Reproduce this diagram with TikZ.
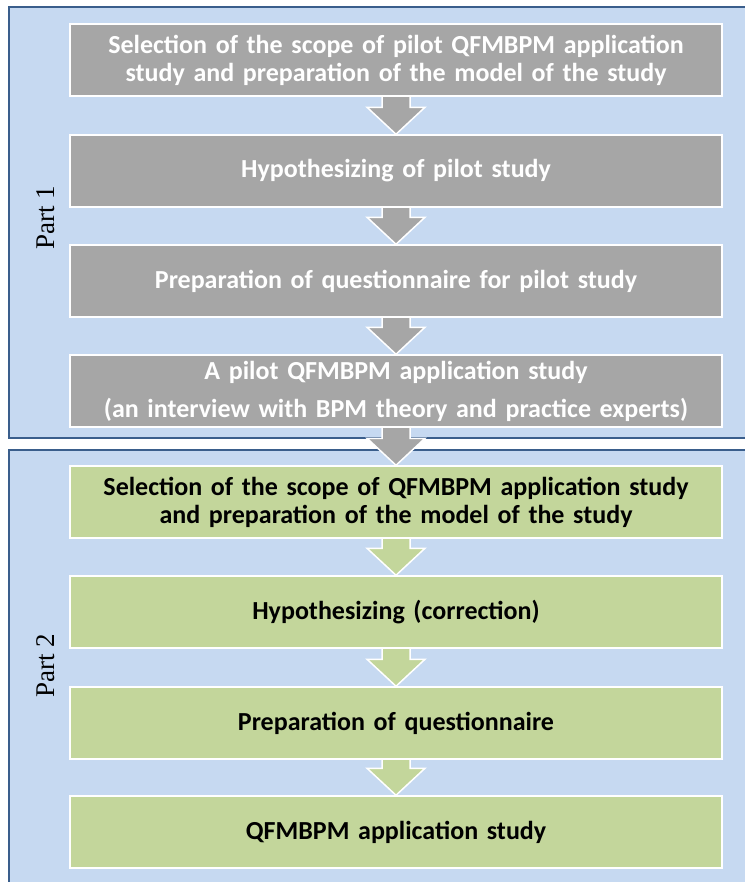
\documentclass[tikz,border=0pt]{standalone}
\usepackage{fontspec}
\setmainfont{Carlito}
\newfontfamily\partfont{Liberation Serif}
\usetikzlibrary{calc}
\pgfdeclarelayer{panels}
\pgfdeclarelayer{arrows}
\pgfsetlayers{panels,arrows,main}

\definecolor{panelfill}{HTML}{C6D9F1}
\definecolor{panelline}{HTML}{3A5E8C}
\definecolor{greybox}{HTML}{A6A6A6}
\definecolor{greenbox}{HTML}{C3D69B}

\tikzset{
  stepbox/.style={draw=white, line width=1.5bp, minimum width=652bp, minimum height=72bp,
    text width=640bp, align=center, inner sep=0pt, font=\fontsize{26bp}{28bp}\selectfont\bfseries},
  greystep/.style={stepbox, fill=greybox, text=white},
  greenstep/.style={stepbox, fill=greenbox, text=black},
  panel/.style={fill=panelfill, draw=panelline, line width=1.6bp},
  greyarrow/.style={fill=greybox, draw=white, line width=1.5bp, line join=miter},
  greenarrow/.style={fill=greenbox, draw=white, line width=1.5bp, line join=miter},
  partlabel/.style={rotate=90, font=\partfont\fontsize{27bp}{27bp}\selectfont, inner sep=0pt},
}

% block arrow from the bottom of one step to the top of the next
\newcommand\flowarrow[3]{%
  \path[#3] let \p1=(#1.south), \p2=(#2.north) in
    (\x1-14bp,\y1) -- (\x1-14bp,\y2+27bp) -- (\x1-29bp,\y2+27bp) -- (\x2,\y2)
    -- (\x1+29bp,\y2+27bp) -- (\x1+14bp,\y2+27bp) -- (\x1+14bp,\y1);}

\begin{document}
\begin{tikzpicture}[x=1bp,y=-1bp]
\useasboundingbox (0,0) rectangle (745,882);

% steps of part 1
\node[greystep] (b1) at (396,60) {Selection of the scope of pilot QFMBPM application\\study and preparation of the model of the study};
\node[greystep] (b2) at (396,171) {Hypothesizing of pilot study};
\node[greystep] (b3) at (396,281) {Preparation of questionnaire for pilot study};
\node[greystep] (b4) at (396,391) {A pilot QFMBPM application study\\[10bp](an interview with BPM theory and practice experts)};

% steps of part 2
\node[greenstep] (b5) at (396,502) {Selection of the scope of QFMBPM application study\\and preparation of the model of the study};
\node[greenstep] (b6) at (396,612) {Hypothesizing (correction)};
\node[greenstep] (b7) at (396,723) {Preparation of questionnaire};
\node[greenstep] (b8) at (396,832) {QFMBPM application study};

% part labels
\node[partlabel] (p1) at (46,218) {Part 1};
\node[partlabel] (p2) at (46,666) {Part 2};

% page and background panels
\begin{pgfonlayer}{panels}
  \fill[white] (0,0) rectangle (745,882);
  \path[panel] (9,7) rectangle (760,438);
  \path[panel] (9,450) rectangle (760,900);
\end{pgfonlayer}

% connecting block arrows
\begin{pgfonlayer}{arrows}
  \flowarrow{b1}{b2}{greyarrow}
  \flowarrow{b2}{b3}{greyarrow}
  \flowarrow{b3}{b4}{greyarrow}
  \flowarrow{b4}{b5}{greyarrow}
  \flowarrow{b5}{b6}{greenarrow}
  \flowarrow{b6}{b7}{greenarrow}
  \flowarrow{b7}{b8}{greenarrow}
\end{pgfonlayer}
\end{tikzpicture}
\end{document}
